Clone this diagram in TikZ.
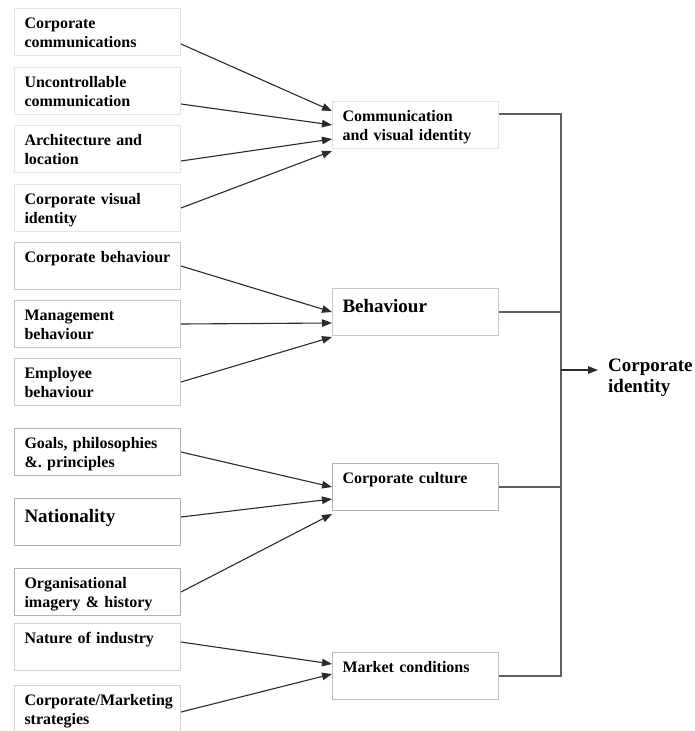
\documentclass[tikz,border=0pt]{standalone}
\usepackage{fontspec}
\setmainfont{Liberation Serif}
\usetikzlibrary{arrows.meta,positioning}
\definecolor{ink}{HTML}{2B2B2B}
\definecolor{rule}{HTML}{5E5E5E}

\begin{document}
\begin{tikzpicture}[x=1pt,y=-1pt,
  box/.style={draw=#1,line width=1pt,anchor=north west,align=left,
    text width=146pt,inner xsep=10pt,inner ysep=4pt,text height=16pt,text depth=23pt,
    minimum width=166pt,font=\fontsize{16}{19}\selectfont\bfseries\frenchspacing},
  box/.default=gray!55,
  big/.style={font=\fontsize{19}{22}\selectfont\bfseries,text height=19.5pt,text depth=19.5pt},
  arrow/.style={-{Triangle[length=10pt,width=7.5pt]},line width=1.1pt,ink},
  link/.style={line width=1.4pt,rule}]
\useasboundingbox (0,0) rectangle (694,731);
% sources
\node[box=gray!22] (cc) at (14,8) {Corporate\\communications};
\node[box=gray!22] (uc) at (14,67) {Uncontrollable\\communication};
\node[box=gray!22] (al) at (14,125) {Architecture and\\location};
\node[box=gray!22] (vi) at (14,184) {Corporate visual\\identity};
\node[box=gray!45] (cb) at (14,242) {\mbox{Corporate behaviour}};
\node[box=gray!45] (mb) at (14,300) {Management\\behaviour};
\node[box=gray!45] (eb) at (14,358) {Employee\\behaviour};
\node[box=gray!60] (gp) at (14,428) {Goals, philosophies\\\&. principles};
\node[box=gray!60,big] (na) at (14,498) {Nationality};
\node[box=gray!60] (oi) at (14,568) {Organisational\\imagery \& history};
\node[box=gray!35] (ni) at (14,623) {Nature of industry};
\node[box=gray!35] (cm) at (14,685) {Corporate/Marketing\\strategies};
% groups
\node[box=gray!22] (cv) at (332,101) {Communication\\and visual identity};
\node[box=gray!45,big] (bh) at (332,288) {Behaviour};
\node[box=gray!60] (cu) at (332,463) {Corporate culture};
\node[box=gray!50] (mk) at (332,652) {Market conditions};
\node[anchor=north west,inner sep=0pt,align=left,
  font=\fontsize{19}{21}\selectfont\bfseries] (ci) at (608,359) {Corporate\\identity};
% arrows
\draw[arrow] ([yshift=-12pt]cc.east) -- ([yshift=14pt]cv.west);
\draw[arrow] ([yshift=-13pt]uc.east) -- (cv.west);
\draw[arrow] ([yshift=-12pt]al.east) -- ([yshift=-14pt]cv.west);
\draw[arrow] (vi.east) -- ([yshift=-26pt]cv.west);
\draw[arrow] (cb.east) -- (bh.west);
\draw[arrow] (mb.east) -- ([yshift=-11pt]bh.west);
\draw[arrow] (eb.east) -- ([yshift=-25pt]bh.west);
\draw[arrow] (gp.east) -- (cu.west);
\draw[arrow] ([yshift=5pt]na.east) -- ([yshift=-12pt]cu.west);
\draw[arrow] (oi.east) -- ([yshift=-27pt]cu.west);
\draw[arrow] ([yshift=5pt]ni.east) -- ([yshift=12pt]mk.west);
\draw[arrow] ([yshift=-3pt]cm.east) -- ([yshift=2pt]mk.west);
% bus
\coordinate (bus) at (561,0);
\coordinate (out) at (561,370);
\draw[link] ([yshift=11pt]cv.east) -| (bus |- mk.east) -- (mk.east);
\draw[link] (bh.east) -- (bh.east -| bus);
\draw[link] (cu.east) -- (cu.east -| bus);
\draw[arrow] (out) -- ([xshift=-10pt]ci.west |- out);
\end{tikzpicture}
\end{document}
